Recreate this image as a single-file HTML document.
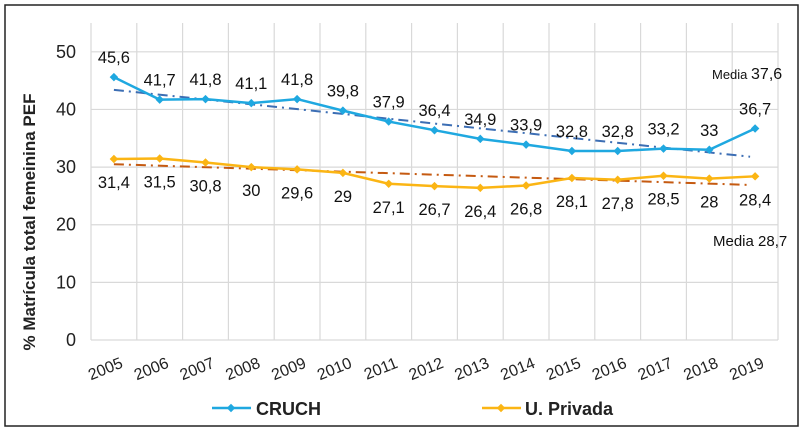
<!DOCTYPE html>
<html><head><meta charset="utf-8"><style>
body{margin:0;background:#fff;}
svg text{font-family:"Liberation Sans",Arial,sans-serif;}
</style></head><body>
<svg id="c" width="804" height="434" xmlns="http://www.w3.org/2000/svg">
<rect x="5" y="5" width="793" height="421" fill="#fff" stroke="#222" stroke-width="1.5"/>
<g id="grid"></g>
<g id="axes"></g>
<g id="marks"></g>
<text x="0" y="0" transform="translate(35,222) rotate(-90)" text-anchor="middle" font-size="17" font-weight="bold" fill="#222">% Matrícula total femeinina PEF</text>
<text x="712" y="79" font-size="13" fill="#111">Media <tspan font-size="16">37,6</tspan></text>
<text x="713" y="246" font-size="15" fill="#111">Media 28,7</text>
<g>
<g>
<line x1="212" y1="408" x2="251" y2="408" stroke="#1FA8E0" stroke-width="2.5"/>
<rect x="228" y="405" width="6" height="6" fill="#1FA8E0" transform="rotate(45 231 408)"/>
<text x="256" y="415" font-size="18" font-weight="bold" fill="#222">CRUCH</text></g>
<g>
<line x1="482" y1="408" x2="521" y2="408" stroke="#FBB514" stroke-width="2.5"/>
<rect x="498" y="405" width="6" height="6" fill="#FBB514" transform="rotate(45 501 408)"/>
<text x="525" y="415" font-size="18" font-weight="bold" fill="#222">U. Privada</text></g>
</g>
</svg>
<script>
const years=["2005","2006","2007","2008","2009","2010","2011","2012","2013","2014","2015","2016","2017","2018","2019"];
const cruch=[45.6,41.7,41.8,41.1,41.8,39.8,37.9,36.4,34.9,33.9,32.8,32.8,33.2,33,36.7];
const privada=[31.4,31.5,30.8,30,29.6,29,27.1,26.7,26.4,26.8,28.1,27.8,28.5,28,28.4];
const cruchLabels=["45,6","41,7","41,8","41,1","41,8","39,8","37,9","36,4","34,9","33,9","32,8","32,8","33,2","33","36,7"];
const privLabels=["31,4","31,5","30,8","30","29,6","29","27,1","26,7","26,4","26,8","28,1","27,8","28,5","28","28,4"];
const yTicks=[0,10,20,30,40,50];
const cruchTrend=[43.4,31.8];
const privTrend=[30.5,26.9];
const L=91,R=778,T=23,B=340,YMAX=55;
const bw=(R-L)/years.length;
const x=i=>L+bw*(i+0.5);
const y=v=>B-(v/YMAX)*(B-T);
const NS="http://www.w3.org/2000/svg";
function mk(tag,attrs,parent){const e=document.createElementNS(NS,tag);for(const k in attrs)e.setAttribute(k,attrs[k]);parent.appendChild(e);return e;}
const grid=document.getElementById('grid'),axes=document.getElementById('axes'),marks=document.getElementById('marks');
yTicks.forEach(t=>{
 const l=mk('line',{x1:L,x2:R,y1:y(t),y2:y(t),stroke:'#d9d9d9','stroke-width':1.2},grid);
 
 
 const tx=mk('text',{x:76,y:y(t)+6,'text-anchor':'end','font-size':18,fill:'#222'},axes);
 tx.textContent=t;
 
 
});
for(let i=0;i<=years.length;i++){
 const l=mk('line',{x1:L+bw*i,x2:L+bw*i,y1:T,y2:B,stroke:'#d9d9d9','stroke-width':1.2},grid);
 
 
}
years.forEach((yr,i)=>{
 const tx=mk('text',{x:0,y:0,'text-anchor':'end','font-size':16,fill:'#222',transform:`translate(${x(i)+10},${B+27}) rotate(-22)`},axes);
 tx.textContent=yr;
 
 
});
const t1=mk('line',{x1:x(0),y1:y(cruchTrend[0]),x2:x(14)-5,y2:y(cruchTrend[1]),stroke:'#3C6EB4','stroke-width':2,'stroke-dasharray':'10,5,2,5'},marks);


const t2=mk('line',{x1:x(0),y1:y(privTrend[0]),x2:x(14)-5,y2:y(privTrend[1]),stroke:'#C55A11','stroke-width':2,'stroke-dasharray':'10,5,2,5'},marks);


function series(vals,labels,color,name,above){
 const p=mk('polyline',{points:vals.map((v,i)=>x(i)+','+y(v)).join(' '),fill:'none',stroke:color,'stroke-width':2.5,'stroke-linejoin':'round'},marks);
 
 
 vals.forEach((v,i)=>{
  const m=mk('rect',{x:x(i)-3,y:y(v)-3,width:6,height:6,fill:color,transform:`rotate(45 ${x(i)} ${y(v)})`},marks);
  
  
  const tx=mk('text',{x:x(i),y:above?y(v)-14:y(v)+29,'text-anchor':'middle','font-size':16.5,fill:'#111'},marks);
  tx.textContent=labels[i];
  
  
 });
}
series(cruch,cruchLabels,'#1FA8E0','cruch',true);
series(privada,privLabels,'#FBB514','privada',false);
</script>
</body></html>
